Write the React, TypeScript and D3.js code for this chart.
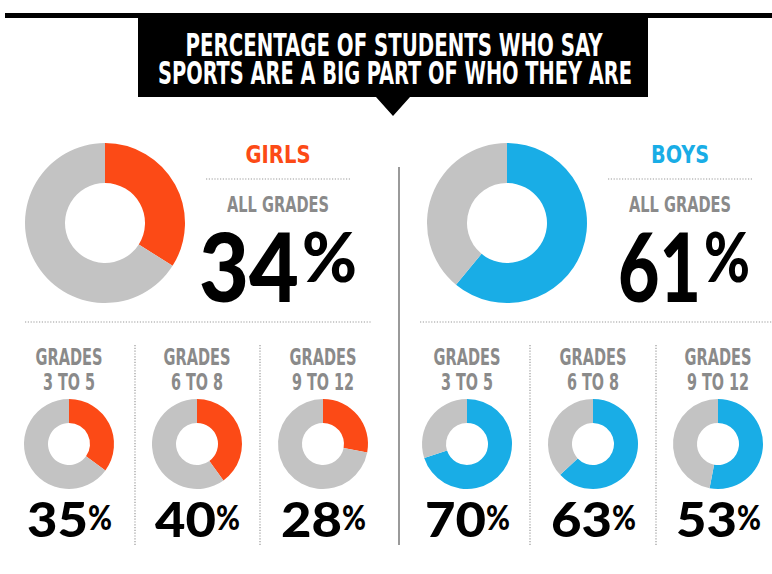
import React from "react";
import * as d3 from "d3";

const titleLines = ["PERCENTAGE OF STUDENTS WHO SAY", "SPORTS ARE A BIG PART OF WHO THEY ARE"];
const groups = ["GIRLS", "BOYS"];
const allGrades = [34, 61];
const gradeTop = ["GRADES", "GRADES", "GRADES"];
const gradeBottom = ["3 TO 5", "6 TO 8", "9 TO 12"];
const girlsByGrade = [35, 40, 28];
const boysByGrade = [70, 63, 53];
const byGrade = [girlsByGrade, boysByGrade];
const groupColors = ["#fc4a16", "#19ade6"];
const restColor = "#c3c3c3";

const COND = "'Liberation Sans Narrow', 'DejaVu Sans Condensed', 'Roboto Condensed', sans-serif";
const ROUND = "Lato, 'Open Sans', 'DejaVu Sans', sans-serif";

const pie = d3.pie<number>().sort(null).value((d) => d);

function Donut({ cx, cy, r, r0, value, color }: { cx: number; cy: number; r: number; r0: number; value: number; color: string }) {
  const arcs = pie([value, 100 - value]);
  const arc = d3.arc<d3.PieArcDatum<number>>().innerRadius(r0).outerRadius(r);
  return (
    <g transform={`translate(${cx},${cy})`}>
      {arcs.map((a, i) => (
        <path key={i} d={arc(a) || ""} fill={i === 0 ? color : restColor} />
      ))}
    </g>
  );
}

function digitsWidth(s: string, unit: number, one: number) {
  return s.split("").reduce((acc, ch) => acc + (ch === "1" ? one : unit), 0);
}

export default function App() {
  const W = 772, H = 574;
  const bigDonutX = [105, 507];
  const headerX = [278, 680];
  const smallX = [[69, 197, 323], [467, 593, 718]];
  const sepX = [[135, 260], [530, 656]];
  const bottomDot = [[25, 372], [420, 772]];

  return (
    <svg width={W} height={H} style={{ position: "absolute", left: 0, top: 0, background: "#fff" }}>
      <rect x={0} y={0} width={W} height={H} fill="#fff" />
      {/* top rule */}
      <rect x={5} y={13} width={767} height={5} fill="#000" />
      {/* title box */}
      <path d="M138,16 L648,16 L648,97 L410,97 L393,116 L376,97 L138,97 Z" fill="#000" />
      <text x={394} y={56} fill="#fff" fontFamily={COND} fontWeight="bold" fontSize={32} textAnchor="middle"
        textLength={417} lengthAdjust="spacingAndGlyphs">{titleLines[0]}</text>
      <text x={395} y={84} fill="#fff" fontFamily={COND} fontWeight="bold" fontSize={32} textAnchor="middle"
        textLength={474} lengthAdjust="spacingAndGlyphs">{titleLines[1]}</text>

      {/* middle solid separator */}
      <rect x={398} y={167} width={2} height={378} fill="#9a9a9a" />

      {groups.map((g, gi) => {
        const hx = headerX[gi];
        const num = String(allGrades[gi]);
        const dw = digitsWidth(num, 50, 33);
        return (
          <g key={g}>
            <Donut cx={bigDonutX[gi]} cy={223} r={80} r0={40} value={allGrades[gi]} color={groupColors[gi]} />
            <text x={hx} y={163} fill={groupColors[gi]} fontFamily={COND} fontWeight="bold" fontSize={24}
              textAnchor="middle" textLength={gi === 0 ? 65 : 58} lengthAdjust="spacingAndGlyphs">{g}</text>
            <line x1={hx - 72} x2={hx + 73} y1={179} y2={179} stroke="#9a9a9a" strokeWidth={1.2} strokeDasharray="1.2,1.6" />
            <text x={hx} y={212} fill="#8a8a8a" fontFamily={COND} fontWeight="bold" fontSize={21}
              textAnchor="middle" textLength={102} lengthAdjust="spacingAndGlyphs">ALL GRADES</text>
            <text x={hx + 21} y={302} fill="#000" fontFamily={ROUND} fontWeight={900} fontSize={96}
              textAnchor="end" textLength={dw} lengthAdjust="spacingAndGlyphs">{num}</text>
            <text x={hx + 24} y={282} fill="#000" fontFamily={ROUND} fontWeight={900} fontSize={68}
              textLength={gi === 0 ? 55 : 46} lengthAdjust="spacingAndGlyphs">%</text>
            <line x1={bottomDot[gi][0]} x2={bottomDot[gi][1]} y1={322} y2={322} stroke="#9a9a9a" strokeWidth={1.2} strokeDasharray="1.2,1.6" />
            {sepX[gi].map((sx) => (
              <line key={sx} x1={sx} x2={sx} y1={345} y2={545} stroke="#9a9a9a" strokeWidth={1.2} strokeDasharray="1.2,1.6" />
            ))}
            {byGrade[gi].map((v, k) => {
              const cx = smallX[gi][k];
              return (
                <g key={k}>
                  <text x={cx} y={365} fill="#8a8a8a" fontFamily={COND} fontWeight="bold" fontSize={23}
                    textAnchor="middle" textLength={67} lengthAdjust="spacingAndGlyphs">{gradeTop[k]}</text>
                  <text x={cx} y={390} fill="#8a8a8a" fontFamily={COND} fontWeight="bold" fontSize={23}
                    textAnchor="middle" textLength={gradeBottom[k].length > 6 ? 62 : 52} lengthAdjust="spacingAndGlyphs">{gradeBottom[k]}</text>
                  <Donut cx={cx} cy={444} r={45} r0={21} value={v} color={groupColors[gi]} />
                  <text x={cx - 42} y={537} fill="#000" fontFamily={ROUND} fontWeight={900} fontSize={47}
                    textLength={61} lengthAdjust="spacingAndGlyphs">{String(v)}</text>
                  <text x={cx + 19} y={530} fill="#000" fontFamily={ROUND} fontWeight={900} fontSize={34}
                    textLength={24} lengthAdjust="spacingAndGlyphs">%</text>
                </g>
              );
            })}
          </g>
        );
      })}
    </svg>
  );
}
